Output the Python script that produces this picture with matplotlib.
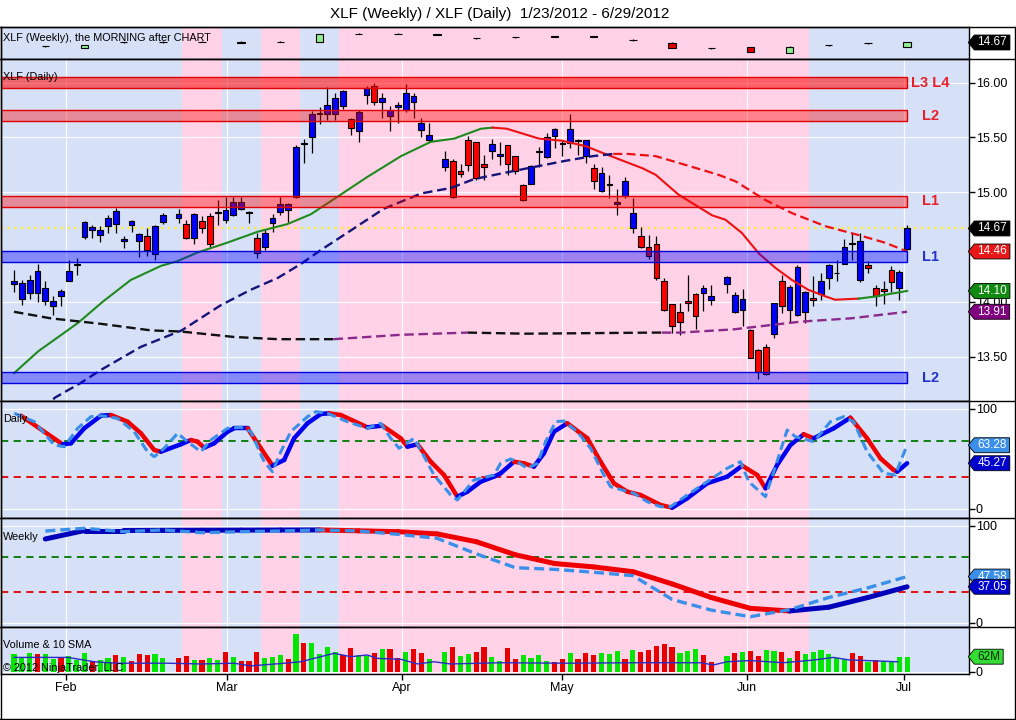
import numpy as np
import pandas as pd
import matplotlib
matplotlib.use('Agg')
import matplotlib.pyplot as plt
from matplotlib.lines import Line2D
from matplotlib.patches import Rectangle
from matplotlib.path import Path

plt.rcParams['font.family'] = ['Liberation Sans', 'DejaVu Sans']
plt.rcParams['font.size'] = 9

W, H = 1016, 720

# ---------------- DATA ----------------
first_day, last_day = '2012-01-23', '2012-06-29'
holidays = ['2012-02-20', '2012-04-06', '2012-05-28']

d_open = [14.16, 14.03, 14.08, 14.08, 14.01, 13.96, 14.05, 14.19, 14.34, 14.59,
          14.66, 14.61, 14.69, 14.71, 14.56, 14.70, 14.56, 14.60, 14.44, 14.73,
          14.77, 14.71, 14.58, 14.74, 14.78, 14.81, 14.75, 14.79, 14.85, 14.82,
          14.58, 14.50, 14.72, 14.82, 14.84, 14.96, 15.44, 15.50, 15.71, 15.71,
          15.71, 15.79, 15.67, 15.56, 15.89, 15.97, 15.82, 15.70, 15.78, 15.75,
          15.82, 15.57, 15.48, 15.23, 15.29, 15.19, 15.48, 15.46, 15.26, 15.38,
          15.335, 15.43, 15.33, 15.07, 15.08, 15.37, 15.32, 15.51, 15.44, 15.45,
          15.47, 15.33, 15.22, 15.01, 15.07, 14.89, 14.97, 14.67, 14.60, 14.50,
          14.53, 14.19, 13.98, 13.91, 14.01, 14.07, 14.08, 14.02, 14.16, 13.91,
          13.93, 13.74, 13.56, 13.59, 13.71, 14.19, 13.93, 13.88, 13.91, 14.04,
          14.07, 14.22, 14.26, 14.35, 14.53, 14.20, 14.34, 14.13, 14.12, 14.29,
          14.13, 14.48]
d_high = [14.29, 14.20, 14.25, 14.35, 14.19, 14.05, 14.12, 14.38, 14.40, 14.74,
          14.70, 14.69, 14.79, 14.86, 14.60, 14.75, 14.63, 14.67, 14.70, 14.81,
          14.85, 14.75, 14.81, 14.78, 14.81, 14.93, 14.96, 14.96, 14.96, 14.83,
          14.63, 14.66, 14.80, 14.96, 14.90, 15.43, 15.49, 15.74, 15.78, 15.96,
          15.91, 15.93, 15.68, 15.75, 15.97, 16.00, 15.91, 15.79, 15.82, 15.99,
          15.91, 15.68, 15.63, 15.38, 15.30, 15.26, 15.51, 15.46, 15.34, 15.49,
          15.46, 15.43, 15.33, 15.08, 15.25, 15.41, 15.54, 15.59, 15.47, 15.71,
          15.49, 15.48, 15.26, 15.23, 15.16, 15.03, 15.14, 14.95, 14.68, 14.61,
          14.60, 14.22, 13.98, 13.99, 14.25, 14.08, 14.15, 14.15, 14.24, 14.09,
          14.12, 13.75, 13.57, 13.62, 13.99, 14.25, 14.15, 14.34, 14.10, 14.24,
          14.26, 14.35, 14.38, 14.57, 14.63, 14.63, 14.37, 14.15, 14.19, 14.33,
          14.29, 14.70]
d_low = [14.09, 13.97, 14.03, 14.00, 13.97, 13.88, 13.96, 14.19, 14.25, 14.57,
         14.58, 14.55, 14.63, 14.63, 14.49, 14.64, 14.41, 14.42, 14.38, 14.71,
         14.72, 14.57, 14.53, 14.63, 14.50, 14.70, 14.72, 14.78, 14.84, 14.72,
         14.40, 14.47, 14.64, 14.79, 14.73, 14.95, 15.27, 15.36, 15.62, 15.66,
         15.66, 15.76, 15.52, 15.46, 15.81, 15.80, 15.68, 15.56, 15.63, 15.73,
         15.68, 15.50, 15.46, 15.19, 14.95, 15.14, 15.19, 15.11, 15.11, 15.30,
         15.25, 15.16, 15.17, 14.92, 15.08, 15.23, 15.31, 15.40, 15.33, 15.40,
         15.34, 15.27, 15.03, 15.00, 14.95, 14.79, 14.95, 14.63, 14.49, 14.39,
         14.20, 13.92, 13.72, 13.70, 13.92, 13.75, 13.92, 13.97, 14.08, 13.90,
         13.78, 13.49, 13.30, 13.33, 13.67, 13.90, 13.82, 13.87, 13.81, 13.96,
         14.02, 14.12, 14.19, 14.35, 14.38, 14.18, 14.26, 13.96, 13.98, 14.09,
         14.02, 14.47]
d_close = [14.19, 14.17, 14.20, 14.28, 14.13, 14.01, 14.10, 14.28, 14.35, 14.73,
           14.68, 14.66, 14.77, 14.83, 14.57, 14.74, 14.62, 14.47, 14.69, 14.79,
           14.80, 14.58, 14.80, 14.67, 14.53, 14.82, 14.84, 14.91, 14.91, 14.81,
           14.45, 14.63, 14.77, 14.89, 14.89, 15.41, 15.45, 15.71, 15.72, 15.80,
           15.86, 15.92, 15.59, 15.73, 15.95, 15.82, 15.86, 15.75, 15.80, 15.91,
           15.88, 15.63, 15.52, 15.30, 14.96, 15.17, 15.25, 15.13, 15.23, 15.44,
           15.345, 15.26, 15.19, 14.93, 15.24, 15.375, 15.50, 15.58, 15.45, 15.58,
           15.475, 15.48, 15.10, 15.18, 15.08, 14.91, 15.10, 14.81, 14.50, 14.42,
           14.22, 13.93, 13.78, 13.82, 13.99, 13.87, 14.13, 14.05, 14.23, 14.06,
           14.03, 13.49, 13.36, 13.34, 13.99, 13.96, 14.14, 14.32, 14.09, 14.02,
           14.19, 14.34, 14.265, 14.50, 14.54, 14.56, 14.31, 14.05, 14.10, 14.18,
           14.27, 14.67]
# volume in millions of shares, and whether it printed on an up ('u') or down ('d') day
d_volume = [73, 58, 78, 73, 73, 52, 59, 65, 48, 78,
            46, 48, 55, 69, 59, 44, 73, 69, 73, 58,
            58, 65, 48, 48, 55, 48, 81, 59, 46, 46,
            81, 55, 62, 69, 52, 156, 117, 117, 73, 101,
            80, 69, 96, 69, 65, 78, 92, 92, 55, 80,
            92, 78, 52, 80, 101, 65, 73, 80, 101, 59,
            46, 96, 52, 69, 58, 69, 44, 39, 52, 78,
            52, 78, 69, 78, 73, 85, 52, 90, 83, 90,
            106, 114, 103, 78, 85, 94, 69, 41, 65, 78,
            82, 85, 65, 90, 85, 82, 58, 85, 73, 82,
            90, 73, 55, 52, 78, 65, 39, 48, 46, 46,
            59, 62]
d_voldir = ("uuuduuduuu" "duududdduu" "dduduududd" "duuududuuu" "udduududdu"
            "dduuduuddu" "udduuuuddu" "ddduuududd" "ddduuuddud" "udduududuu"
            "uuuudduduu" "uu")

# weekly bars (one per Friday)
w_open = [14.17, 14.00, 14.70, 14.71, 14.78, 14.66, 14.77, 14.77, 15.80, 15.80, 15.72, 15.21,
          15.34, 15.38, 15.46, 15.00, 14.64, 13.90, 14.13, 13.36, 14.30, 14.57, 14.13]
w_high = [14.28, 14.36, 14.78, 14.80, 14.85, 14.80, 14.86, 15.82, 15.88, 15.88, 15.78, 15.30,
          15.40, 15.50, 15.50, 15.10, 14.68, 14.00, 14.15, 14.16, 14.31, 14.63, 14.72]
w_low = [14.08, 13.95, 14.62, 14.62, 14.70, 14.62, 14.70, 14.74, 15.72, 15.74, 15.60, 15.12,
         15.28, 15.35, 15.36, 14.90, 13.90, 13.85, 13.45, 13.33, 14.18, 14.52, 14.10]
w_close = [14.19, 14.31, 14.71, 14.70, 14.77, 14.74, 14.78, 15.72, 15.81, 15.81, 15.65, 15.22,
           15.35, 15.46, 15.40, 15.01, 13.93, 13.96, 13.49, 14.13, 14.30, 14.58, 14.67]

# moving averages, read as knots (x in weekday slots from 1/23)
fast_x_a = [0, 3.1, 8.2, 11.3, 14.9, 18.8, 20.8, 23.4, 27.2, 31.1, 34.9, 37.9, 41.3, 45.1,
            49.4, 53.2, 56.2, 59.6, 61.1]
fast_y_a = [13.35, 13.55, 13.81, 14.00, 14.20, 14.33, 14.37, 14.45, 14.54, 14.64, 14.71, 14.80,
            14.96, 15.14, 15.33, 15.46, 15.49, 15.58, 15.59]
fast_x_b = [61.1, 62.9, 67.0, 70.0, 73.0, 75.1, 78.0, 80.2, 81.9, 84.8, 89.1, 90.8, 92.9,
            95.1, 97.2, 99.3, 101.4, 103.6, 104.8, 107.8]
fast_y_b = [15.59, 15.58, 15.49, 15.47, 15.42, 15.36, 15.28, 15.22, 15.16, 14.98, 14.79, 14.75,
            14.63, 14.44, 14.31, 14.20, 14.11, 14.05, 14.02, 14.03]
fast_x_c = [107.8, 110.0, 114.0]
fast_y_c = [14.03, 14.05, 14.10]

mid_x_a = [3.6, 5.3, 8.5, 11.1, 16.2, 21.4, 26.4, 30.2, 33.7, 36.7, 39.1, 42.1, 47.2, 52.0,
           55.8, 58.7, 62.1, 66.3, 70.6, 73.9, 76.5]
mid_y_a = [13.03, 13.13, 13.26, 13.38, 13.59, 13.74, 13.97, 14.11, 14.22, 14.35, 14.47, 14.61,
           14.85, 14.99, 15.04, 15.12, 15.17, 15.23, 15.29, 15.33, 15.35]
mid_x_b = [76.5, 78.4, 81.9, 85.7, 89.9, 92.1, 95.9, 99.3, 103.6, 107.8, 111.2, 114.0]
mid_y_b = [15.35, 15.35, 15.33, 15.25, 15.16, 15.10, 14.93, 14.81, 14.69, 14.61, 14.54, 14.46]

slow_x_a = [0, 4.7, 11.1, 17.5, 21.3, 28.1, 33.7, 39.1, 40.8]
slow_y_a = [13.91, 13.85, 13.80, 13.74, 13.73, 13.68, 13.66, 13.66, 13.66]
slow_x_b = [40.8, 49.4, 57.9]
slow_y_b = [13.66, 13.70, 13.72]
slow_x_c = [57.9, 65.3, 81.6, 82.7]
slow_y_c = [13.72, 13.71, 13.72, 13.72]
slow_x_d = [82.7, 85.1, 91.9, 100.4, 106.8, 114.0]
slow_y_d = [13.72, 13.72, 13.75, 13.82, 13.85, 13.91]

# daily stochastics
dsto_x = [0.89, 6.21, 7.27, 8.97, 11.10, 12.37, 14.50, 16.20, 17.90, 18.75, 21.30, 22.58,
          23.43, 24.27, 25.55, 27.26, 28.10, 29.81, 31.51, 33.0, 34.48, 35.75, 37.46, 39.16,
          40.22, 41.71, 45.11, 47.03, 49.36, 50.22, 51.49, 53.19, 54.89, 56.59, 57.87, 59.57,
          61.26, 62.12, 63.81, 65.09, 66.36, 67.64, 68.92, 70.62, 73.18, 74.87, 76.57, 78.28,
          79.97, 82.53, 84.02, 85.93, 88.48, 91.03, 92.95, 94.86, 95.92, 97.41, 99.11, 100.80,
          102.08, 104.63, 106.76, 108.89, 110.59, 112.28, 112.72, 114.0]
dsto_y = [92.8, 64.2, 65.2, 80.2, 92.8, 93.5, 86.8, 75.2, 58.5, 56.8, 64.2, 68.5, 66.8, 60.8,
          65.2, 76.8, 80.2, 80.2, 60.2, 42.8, 48.5, 70.2, 85.2, 94.5, 95.2, 93.5, 81.2, 82.8,
          70.2, 61.8, 64.2, 46.8, 33.5, 11.8, 16.8, 26.8, 31.8, 35.2, 46.8, 45.2, 41.8, 55.2,
          76.8, 85.2, 70.2, 46.8, 25.2, 16.8, 13.5, 3.5, 0.8, 10.2, 25.2, 31.8, 42.8, 33.5,
          20.2, 43.5, 63.5, 74.2, 70.2, 80.2, 90.8, 70.2, 50.2, 38.5, 36.8, 45.27]
dk_x = [0.04, 2.59, 5.14, 6.42, 8.12, 9.82, 11.10, 13.23, 15.34, 17.05, 17.90, 19.17, 20.88,
        22.16, 23.85, 25.13, 27.26, 28.95, 30.23, 31.93, 33.0, 34.06, 35.33, 37.46, 38.52,
        40.01, 42.56, 45.11, 46.81, 48.09, 49.15, 51.06, 51.91, 53.61, 55.74, 56.59, 58.71,
        61.26, 62.12, 63.39, 64.25, 65.52, 66.80, 67.86, 69.13, 70.19, 71.90, 73.60, 75.29,
        76.15, 79.12, 80.83, 82.53, 83.80, 85.93, 88.48, 91.03, 92.73, 93.79, 95.92, 96.98,
        98.69, 99.74, 102.08, 104.21, 105.91, 107.18, 108.89, 111.01, 112.50, 113.14, 114.0]
dk_y = [95.2, 86.8, 63.5, 61.8, 80.2, 91.8, 92.8, 90.2, 76.8, 56.8, 51.8, 60.2, 75.2, 66.8,
        56.8, 68.5, 80.2, 81.2, 76.8, 46.8, 36.8, 56.8, 76.8, 91.8, 96.8, 95.2, 86.8, 80.2,
        85.2, 70.2, 60.2, 70.2, 58.5, 33.5, 13.5, 8.5, 28.5, 33.5, 45.2, 49.5, 46.8, 40.2,
        45.2, 66.8, 86.8, 87.5, 76.8, 60.2, 33.5, 21.8, 15.2, 6.8, 1.8, 1.8, 13.5, 26.8,
        40.2, 46.8, 26.8, 11.8, 36.8, 78.5, 71.8, 66.8, 86.8, 91.8, 86.8, 56.8, 35.2, 33.5,
        46.8, 63.28]

# weekly stochastics (one value per weekly bar)
wsto = [86.3, 95.0, 95.0, 95.2, 95.3, 95.4, 95.5, 95.6, 94.7, 93.8, 91.5, 83.5,
        70.0, 61.0, 57.5, 52.6, 40.0, 26.0, 14.8, 12.1, 16.0, 26.0, 37.05]
wk = [94.5, 97.3, 93.8, 95.6, 92.8, 93.8, 94.5, 95.6, 94.5, 91.1, 87.0, 71.0,
      56.7, 55.0, 52.0, 48.5, 24.0, 13.0, 6.2, 13.5, 26.0, 36.0, 47.58]

# volume 10 SMA knots
vsma_x = [0.04, 6.85, 8.97, 10.24, 13.23, 19.6, 23.85, 28.1, 30.2, 34.5, 36.6, 40.86, 43.0,
          45.1, 46.4, 49.4, 51.5, 53.6, 55.7, 62.1, 70.6, 79.1, 87.6, 89.3, 91.0, 94.0, 98.2,
          102.0, 104.6, 106.7, 108.8, 112.8]
vsma_y = [59, 59, 48, 41, 35, 35, 32, 35, 24, 35, 41, 76, 62, 69, 55, 51, 32, 41, 32, 37,
          35, 37, 37, 28, 41, 46, 37, 48, 59, 48, 46, 41]

# support / resistance zones
zone_lo = [15.95, 15.65, 14.87, 14.36, 13.26]
zone_hi = [16.05, 15.75, 14.97, 14.46, 13.36]
zone_name = ['L3 L4', 'L2', 'L1', 'L1', 'L2']
zone_kind = ['res', 'res', 'res', 'sup', 'sup']
last_price = 14.67
price_ticks = [13.5, 14.0, 15.0, 15.5, 16.0]

# background shading periods (weekday slots) and month ticks
shade_edges = [-5, 21.5, 26.5, 31.5, 36.5, 41.5, 101.5, 130]
month_ticks = [6.6, 27.2, 49.5, 69.9, 93.5, 113.6]
month_names = ['Feb', 'Mar', 'Apr', 'May', 'Jun', 'Jul']

# ---------------- LAYOUT ----------------
weekdays = pd.bdate_range(first_day, last_day)
days = weekdays.drop(pd.to_datetime(holidays))
xd = weekdays.get_indexer(days)
xw = weekdays.get_indexer(pd.date_range(first_day, last_day, freq='W-FRI'))

BLUE_BG, PINK_BG = '#d6e0f6', '#ffd2e8'

fig = plt.figure(figsize=(W / 100, H / 100), dpi=100)


def panel(top, bottom):
    ax = fig.add_axes([1 / W, 1 - bottom / H, 968 / W, (bottom - top) / H])
    ax.set_xlim(-1.66, 121.9)
    for i in range(len(shade_edges) - 1):
        ax.axvspan(shade_edges[i], shade_edges[i + 1], color=BLUE_BG if i % 2 == 0 else PINK_BG,
                   lw=0, zorder=0)
    ax.set_axisbelow(True)
    ax.set_xticks(month_ticks)
    ax.grid(True, color='white', lw=0.9, alpha=0.9)
    ax.tick_params(axis='x', length=0, labelbottom=False)
    ax.yaxis.tick_right()
    ax.tick_params(axis='y', direction='out', length=4, width=1, pad=1, labelsize=9)
    for s in ax.spines.values():
        s.set_linewidth(1)
    return ax


def tag_box(x0, y0, width, height, mutation_size):
    pad = 0.25 * mutation_size
    x0, y0 = x0 - pad, y0 - pad * 0.5
    x1, y1 = x0 + width + 2 * pad, y0 + height + pad
    tip = 0.4 * (y1 - y0)
    ym = 0.5 * (y0 + y1)
    return Path([(x0 - tip, ym), (x0, y1), (x1, y1), (x1, y0), (x0, y0), (x0 - tip, ym)], closed=True)


def tag(ax, y, text, fc, tc='white'):
    ax.text(1.0085, y, text, transform=ax.get_yaxis_transform(), ha='left', va='center',
            fontsize=8.5, color=tc, zorder=10, clip_on=False,
            bbox=dict(boxstyle=tag_box, fc=fc, ec='black', lw=0.6))


def candles(ax, x, o, h, l, c, width, up, down, zorder=4):
    o, h, l, c = map(np.asarray, (o, h, l, c))
    ax.vlines(x, l, h, color='black', lw=0.9, zorder=zorder - 1)
    body = np.maximum(np.abs(c - o), 0.004)
    ax.bar(x, body, width, bottom=np.minimum(o, c), color=np.where(c >= o, up, down),
           edgecolor='black', linewidth=0.8, zorder=zorder)


def slope_line(ax, x, y, up, down, **kw):
    for i in range(len(x) - 1):
        ax.plot(x[i:i + 2], y[i:i + 2], color=up if y[i + 1] >= y[i] else down,
                solid_capstyle='round', **kw)


ax_w = panel(27, 59)
ax_p = panel(59, 401)
ax_d = panel(401, 518)
ax_k = panel(518, 627)
ax_v = panel(627, 674)

# weekly bars
ax_w.set_ylim(12.55, 16.66)
ax_w.set_yticks([])
ax_w.grid(False)
candles(ax_w, xw, w_open, w_high, w_low, w_close, 0.95, '#90ee90', '#e00000')
tag(ax_w, last_price, f'{last_price:.2f}', 'black')

# daily price
ax_p.set_ylim(13.096, 16.216)
ax_p.set_yticks(price_ticks)
ax_p.yaxis.set_major_formatter(matplotlib.ticker.FormatStrFormatter('%.2f'))
ax_p.axhline(last_price, color='#ffee22', ls=(0, (1, 2)), lw=1.6, zorder=2)
candles(ax_p, xd, d_open, d_high, d_low, d_close, 0.74, '#0000ff', '#ff0000')
ax_p.plot(fast_x_a, fast_y_a, color='#1e8b1e', lw=1.5, zorder=5)
ax_p.plot(fast_x_b, fast_y_b, color='#ee1111', lw=1.5, zorder=5)
ax_p.plot(fast_x_c, fast_y_c, color='#1e8b1e', lw=1.5, zorder=5)
ax_p.plot(mid_x_a, mid_y_a, color='#14147a', lw=1.7, ls=(0, (4, 2)), zorder=5)
ax_p.plot(mid_x_b, mid_y_b, color='#ee1111', lw=1.6, ls=(0, (4, 2)), zorder=5)
ax_p.plot(slow_x_a, slow_y_a, color='#111111', lw=1.7, ls=(0, (4, 2)), zorder=5)
ax_p.plot(slow_x_b, slow_y_b, color='#8b2a8b', lw=1.7, ls=(0, (4, 2)), zorder=5)
ax_p.plot(slow_x_c, slow_y_c, color='#111111', lw=1.7, ls=(0, (4, 2)), zorder=5)
ax_p.plot(slow_x_d, slow_y_d, color='#8b2a8b', lw=1.7, ls=(0, (4, 2)), zorder=5)
x_left = ax_p.get_xlim()[0]
for lo, hi, name, kind in zip(zone_lo, zone_hi, zone_name, zone_kind):
    if kind == 'res':
        edge, txt = '#e00000', '#e8202a'
        face = (1, 0, 0, 0.55 if name == 'L3 L4' else 0.38)
    else:
        edge, txt = '#0000dd', '#2233cc'
        face = (0, 0, 1, 0.38)
    ax_p.add_patch(Rectangle((x_left, lo), xd[-1] - x_left, hi - lo, fc=face, ec=edge, lw=1, zorder=6))
    ax_p.text(117, (lo + hi) / 2, name, ha='center', va='center', color=txt, fontsize=10.5,
              fontweight='bold', family=['Liberation Sans Narrow', 'Liberation Sans', 'DejaVu Sans'],
              zorder=7)
tag(ax_p, last_price, f'{last_price:.2f}', 'black')
tag(ax_p, mid_y_b[-1], f'{mid_y_b[-1]:.2f}', '#e81818')
tag(ax_p, fast_y_c[-1], f'{fast_y_c[-1]:.2f}', '#108a10')
tag(ax_p, slow_y_d[-1], f'{slow_y_d[-1]:.2f}', '#800080')

# daily stochastics
ax_d.set_ylim(-9.5, 107.5)
ax_d.set_yticks([0, 100])
for lvl, col in ((68, '#007a00'), (32, '#e00000')):
    ax_d.axhline(lvl, color=col, lw=1.3, ls=(0, (4, 3)), zorder=2)
slope_line(ax_d, dsto_x, dsto_y, '#0000ee', '#ee0000', lw=3.2, zorder=4)
ax_d.plot(dk_x, dk_y, color='#3a8fe8', lw=2.2, ls=(0, (3, 1.5)), zorder=5)
tag(ax_d, dk_y[-1], f'{dk_y[-1]:.2f}', '#3a8fe8')
tag(ax_d, dsto_y[-1], f'{dsto_y[-1]:.2f}', '#0000cc')

# weekly stochastics
ax_k.set_ylim(-4.4, 107.9)
ax_k.set_yticks([0, 100])
for lvl, col in ((68, '#007a00'), (32, '#e00000')):
    ax_k.axhline(lvl, color=col, lw=1.3, ls=(0, (4, 3)), zorder=2)
slope_line(ax_k, xw, wsto, '#0000bb', '#ee0000', lw=3.6, zorder=4)
ax_k.plot(xw, wk, color='#3a8fe8', lw=2.4, ls=(0, (3, 1.5)), zorder=5)
tag(ax_k, wk[-1], f'{wk[-1]:.2f}', '#3a8fe8')
tag(ax_k, wsto[-1], f'{wsto[-1]:.2f}', '#0000cc')

# volume
ax_v.set_ylim(-9.5, 184.6)
ax_v.set_yticks([0])
ax_v.bar(xd, d_volume, 0.66, color=['#00e600' if v == 'u' else '#e60000' for v in d_voldir], zorder=3)
ax_v.plot(vsma_x, vsma_y, color='#2a2ac8', lw=1, zorder=4)
tag(ax_v, d_volume[-1], f'{d_volume[-1]}M', '#33dd33', tc='#0a2a0a')
ax_v.set_xticks(month_ticks, month_names)
ax_v.tick_params(axis='x', direction='out', length=4, width=1, pad=2, labelbottom=True, labelsize=9)

# texts
fig.text(500 / W, 1 - 14 / H, 'XLF (Weekly) / XLF (Daily)  1/23/2012 - 6/29/2012', ha='center',
         va='center', fontsize=11)
for y, s in ((38, 'XLF (Weekly), the MORNING after CHART'), (77, 'XLF (Daily)'), (419, 'Daily'),
             (537, 'Weekly'), (645, 'Volume & 10 SMA'), (668, '\u00a9 2012 NinjaTrader, LLC')):
    fig.text(3 / W, 1 - y / H, s, ha='left', va='center', fontsize=7.8, zorder=20)

# frame
for y in (27, 59, 401, 518, 627):
    fig.add_artist(Line2D([0, 1015 / W], [1 - y / H] * 2, color='black', lw=1))
fig.add_artist(Line2D([1015 / W] * 2, [1 - 27 / H, 1 - 718.5 / H], color='black', lw=1))
fig.add_artist(Line2D([0, 1015 / W], [1 - 718.5 / H] * 2, color='black', lw=1))
fig.add_artist(Line2D([0.5 / W] * 2, [1 - 27 / H, 1 - 718.5 / H], color='black', lw=1))

fig.savefig('out.png', dpi=100)
